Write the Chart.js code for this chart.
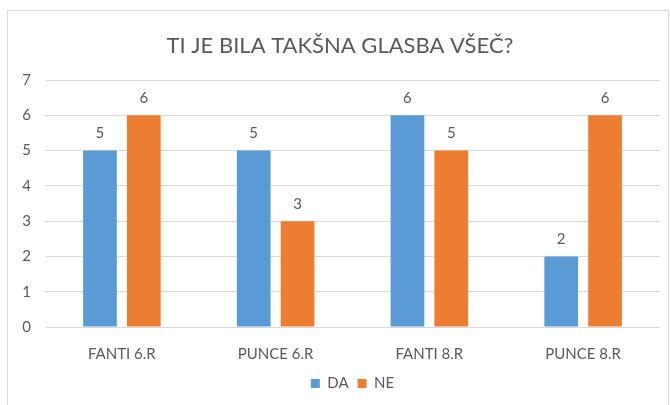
<!DOCTYPE html>
<html>
<head>
<meta charset="utf-8">
<script src="https://cdn.jsdelivr.net/npm/chart.js@4"></script>
<style>
  html, body { margin: 0; padding: 0; background: #fff; }
  #wrap { width: 670px; height: 405px; }
</style>
</head>
<body>
<div id="wrap"><canvas id="myChart" width="670" height="405"></canvas></div>
<script>
const categories = ['FANTI 6.R', 'PUNCE 6.R', 'FANTI 8.R', 'PUNCE 8.R'];
const daValues = [5, 5, 6, 2];
const neValues = [6, 3, 5, 6];
const yTicks = [0, 1, 2, 3, 4, 5, 6, 7];
const chartTitle = 'TI JE BILA TAKŠNA GLASBA VŠEČ?';

const textColor = '#595959';
const fontFamily = 'Lato, "Open Sans", sans-serif';

// frame around the whole chart + title
const framePlugin = {
  id: 'frame',
  beforeDraw(chart) {
    const c = chart.ctx;
    c.save();
    c.fillStyle = '#fff';
    c.fillRect(0, 0, chart.width, chart.height);
    c.strokeStyle = '#d9d9d9';
    c.lineWidth = 1;
    c.strokeRect(7.5, 10.5, 661, 400);
    c.fillStyle = textColor;
    c.font = '22px ' + fontFamily;
    c.textAlign = 'center';
    c.textBaseline = 'middle';
    c.fillText(chartTitle, 340, 46);
    c.restore();
  }
};

// value labels above bars
const valueLabels = {
  id: 'valueLabels',
  afterDatasetsDraw(chart) {
    const c = chart.ctx;
    c.save();
    c.fillStyle = textColor;
    c.font = '15px ' + fontFamily;
    c.textAlign = 'center';
    c.textBaseline = 'middle';
    chart.data.datasets.forEach(function(ds, i) {
      chart.getDatasetMeta(i).data.forEach(function(bar, j) {
        c.fillText(ds.data[j], bar.x, bar.y - 17);
      });
    });
    c.restore();
  }
};

const ctx = document.getElementById('myChart').getContext('2d');
const myChart = new Chart(ctx, {
  type: 'bar',
  data: {
    labels: categories,
    datasets: [{
      label: 'DA',
      data: daValues,
      backgroundColor: '#5B9BD5',
      categoryPercentage: 0.57,
      barPercentage: 0.77
    }, {
      label: 'NE',
      data: neValues,
      backgroundColor: '#ED7D31',
      categoryPercentage: 0.57,
      barPercentage: 0.77
    }]
  },
  options: {
    responsive: false,
    animation: false,
    layout: { padding: { top: 80, right: 10, bottom: 4, left: 0 } },
    scales: {
      x: {
        grid: { display: false },
        border: { display: false },
        ticks: { color: textColor, font: { family: fontFamily, size: 15 }, padding: 10 },
        afterFit: function(scale) { scale.height = 40; }
      },
      y: {
        min: 0,
        max: 7,
        afterBuildTicks: function(scale) { scale.ticks = yTicks.map(v => ({ value: v })); },
        grid: { color: '#d9d9d9', drawTicks: false },
        border: { display: false },
        ticks: { color: textColor, font: { family: fontFamily, size: 15 }, padding: 14 },
        afterFit: function(scale) { scale.width = 45; }
      }
    },
    plugins: {
      title: { display: false },
      tooltip: { enabled: false },
      legend: {
        position: 'bottom',
        fullSize: false,
        labels: {
          color: textColor,
          font: { family: fontFamily, size: 15 },
          boxWidth: 9,
          boxHeight: 9,
          padding: 9
        }
      }
    }
  },
  plugins: [framePlugin, valueLabels]
});
</script>
</body>
</html>
